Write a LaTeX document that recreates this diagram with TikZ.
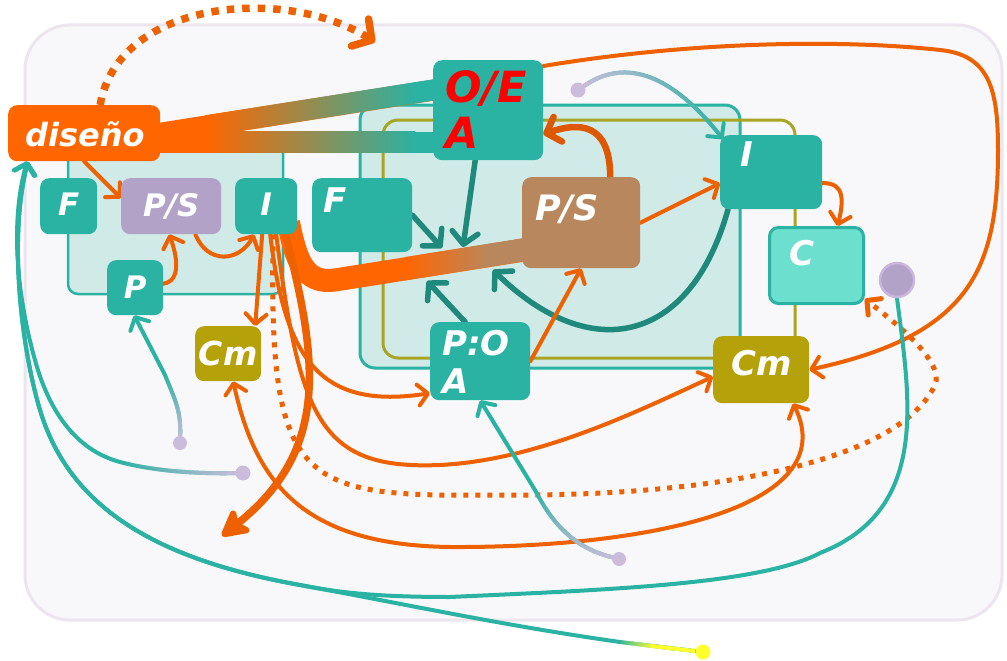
\documentclass[tikz,border=0pt]{standalone}
\usepackage{fontspec}
\setmainfont{DejaVu Sans}
\usetikzlibrary{arrows.meta,fadings}

\definecolor{tealN}{HTML}{2AB2A2}
\definecolor{tealD}{HTML}{1F8A7B}
\definecolor{tealBg}{HTML}{D0EAE8}
\definecolor{orangeN}{HTML}{FF6600}
\definecolor{orangeL}{HTML}{EE6100}
\definecolor{orangeD}{HTML}{DD5800}
\definecolor{lavN}{HTML}{B3A2C8}
\definecolor{lavEdge}{HTML}{C9B8DC}
\definecolor{lavDot}{HTML}{CBBCDB}
\definecolor{brownPS}{HTML}{B8875D}
\definecolor{oliveN}{HTML}{B5A10A}
\definecolor{oliveBox}{HTML}{A8A524}
\definecolor{cyanC}{HTML}{6CDFCF}
\definecolor{paper}{HTML}{F8F8FB}
\definecolor{paperEdge}{HTML}{ECE5EE}
\definecolor{yellowDot}{HTML}{FFFF2E}

\newcommand{\boxfont}[2]{\fontsize{#1}{#2}\selectfont\bfseries\itshape}

\pgfdeclarelayer{back}
\pgfdeclarelayer{edges}
\pgfsetlayers{back,edges,main}

\begin{document}
\begin{tikzpicture}
[
    x=1pt, y=-1pt,
    blk/.style={rounded corners=9pt, inner sep=0pt, anchor=north west, text=white, font=\boxfont{31}{36}},
    endpt/.style={circle, fill=lavDot, inner sep=0pt, minimum size=15pt},
    ol/.style={draw=orangeL, line width=4pt, line cap=round},
    oarr/.style={ol, -{Straight Barb[length=10pt, width=21pt, round]}},
    tl/.style={draw=tealN, line width=4pt, line cap=round},
    tarr/.style={tl, -{Straight Barb[length=10pt, width=21pt, round]}},
    lavline/.style={draw=lavDot, line width=4pt, line cap=round},
    yline/.style={draw=yellowDot, line width=4pt},
    darr/.style={draw=tealD, line width=5.5pt, line cap=round, -{Straight Barb[length=12pt, width=26pt, round]}},
    band/.style={draw=orangeN, line width=21pt},
    dotarr/.style={draw=orangeL, line width=5pt, dash pattern=on 5pt off 7pt, -{Straight Barb[length=10pt, width=21pt, round]}},
]
\useasboundingbox (0,0) rectangle (1007,661);

% frames
\begin{pgfonlayer}{back}
\fill[white] (0,0) rectangle (1007,661);
\draw[paperEdge, fill=paper, line width=3pt, rounded corners=45pt] (25,25) rectangle (1002,620);
\draw[tealN, fill=tealBg, line width=2.5pt, rounded corners=10pt] (68,140) rectangle (283,294);
\draw[tealN, fill=tealBg, line width=3pt, rounded corners=15pt] (360,105) rectangle (740,368);
\draw[oliveBox, line width=3pt, rounded corners=15pt] (383,120) rectangle (795,358);
\end{pgfonlayer}

% boxes
\node[blk, fill=orangeN, font=\boxfont{32}{36}, inner xsep=17pt, text width=118pt, text height=41pt, text depth=15pt, align=left] (dis) at (8,105) {diseño};
\node[blk, fill=tealN, text width=57pt, text height=37pt, text depth=19pt, align=center] (fL) at (40,178) {F};
\node[blk, fill=lavN, text width=100pt, text height=38pt, text depth=18pt, align=center] (psL) at (121,178) {P/S};
\node[blk, fill=tealN, text width=62pt, text height=37pt, text depth=19pt, align=center] (iL) at (235,178) {I};
\node[blk, fill=tealN, text width=56pt, text height=38pt, text depth=17pt, align=center] (pL) at (107,260) {P};
\node[blk, fill=oliveN, font=\boxfont{33}{38}, text width=66pt, text height=39pt, text depth=16pt, align=center] (cmL) at (195,326) {Cm};
\node[blk, fill=tealN, font=\boxfont{34}{38}, inner xsep=11pt, text width=78pt, text height=34pt, text depth=40pt, align=left] (fC) at (312,178) {F};
\node[blk, fill=tealN, text=red, font=\boxfont{43}{46}, inner xsep=12pt, text width=86pt, text height=42pt, text depth=58pt, align=left] (oea) at (433,60) {O/E\\A};
\node[blk, fill=brownPS, font=\boxfont{35}{38}, inner xsep=13pt, text width=92pt, text height=43pt, text depth=48pt, align=left] (psC) at (522,177) {P/S};
\node[blk, fill=tealN, font=\boxfont{34}{38}, inner xsep=20pt, text width=62pt, text height=31pt, text depth=43pt, align=left] (iR) at (720,135) {I};
\node[blk, fill=cyanC, draw=tealN, line width=3pt, font=\boxfont{34}{38}, inner xsep=20pt, text width=54pt, text height=38pt, text depth=38pt, align=left] (cR) at (768,226) {C};
\node[blk, fill=oliveN, font=\boxfont{34}{38}, inner xsep=18pt, text width=60pt, text height=39pt, text depth=28pt, align=left] (cmR) at (713,336) {Cm};
\node[blk, fill=tealN, font=\boxfont{34}{38}, inner xsep=12pt, text width=76pt, text height=33pt, text depth=45pt, align=left] (poa) at (430,322) {P:O\\A};

% loose ends
\node[circle, fill=lavN, draw=lavEdge, line width=2.5pt, minimum size=34pt, inner sep=0pt] (pc) at (897,280) {};
\node[endpt] (dtA) at (578,90) {};
\node[endpt, minimum size=14pt] (dtB) at (180,443) {};
\node[endpt] (dtC) at (243,473) {};
\node[endpt, minimum size=14pt] (dtD) at (619,559) {};
\node[endpt, fill=yellowDot] (dtY) at (703,652) {};
\coordinate (hubA) at (442,248);
\coordinate (hubB) at (463,247);
\coordinate (hubC) at (427,281);
\coordinate (hubD) at (493,270);
\coordinate (tipI) at (222,536);
\coordinate (tipO) at (375,42);
\coordinate (bandBend) at (335,280);
\coordinate (lavTurn) at (120,462);
\coordinate (yelTurn) at (620,642);
\coordinate (tealJoin) at (300,585);
\coordinate (pBend) at (165,375);
\coordinate (poaBend) at (535,490);

\begin{pgfonlayer}{edges}
% wide bands
\draw[band] (dis.east) -- ([yshift=20pt]oea.west);
\draw[band] ([yshift=-9pt]dis.east) -- ([yshift=-32pt]oea.west);
\shade[left color=orangeN, right color=tealN] (205,115.3) -- (415,82.2) -- (415,103.4) -- (205,136.5) -- cycle;
\fill[tealN] (414,82.3) -- (440,78.3) -- (440,99.5) -- (414,103.6) -- cycle;
\shade[left color=orangeN, right color=tealN] (205,131.5) rectangle (415,152.5);
\fill[tealN] (414,131.5) rectangle (436,152.5);

\draw[band, line width=23pt] ([shift={(-9,-12)}]iL.south east) .. controls +(8,40) and +(-30,4) .. (bandBend) -- ([shift={(6,-19)}]psC.south west);
\shade[left color=orangeN, right color=brownPS] (405,257.1) -- (490,243.45) -- (490,266.75) -- (405,280.4) -- cycle;
\fill[brownPS] (489,243.6) -- (530,237.05) -- (530,260.35) -- (489,266.9) -- cycle;

% dark arrows into the band
\draw[darr] (fC.east) -- (hubA);
\draw[darr] ([xshift=-13pt]oea.south) -- (hubB);
\draw[darr] ([xshift=-15pt]poa.north) -- (hubC);
\draw[darr] ([xshift=8pt]iR.south west) .. controls (690,345) and (590,365) .. (hubD);

% orange links
\draw[draw=orangeL, line width=7.5pt, dash pattern=on 7.5pt off 8pt, -{Straight Barb[length=14pt, width=32pt, round]}] ([xshift=16pt]dis.north) .. controls (118,0) and (285,-15) .. (tipO);
\draw[oarr] (dis.south) -- ([yshift=8pt]psL.west);
\draw[oarr] ([yshift=4pt]pL.east) .. controls +(18,-3) and +(8,22) .. ([xshift=-2pt]psL.south);
\draw[oarr] ([xshift=-26pt]psL.south east) .. controls +(12,30) and +(-15,28) .. ([xshift=-12pt]iL.south);
\draw[oarr] ([xshift=-4pt]iL.south) -- ([xshift=27pt]cmL.north);
\draw[oarr] ([xshift=4pt]iL.south) .. controls (285,360) and (320,410) .. ([yshift=-32pt]poa.west);
\draw[oarr] ([xshift=10pt]iL.south) .. controls (300,420) and (320,470) .. (440,465) .. controls (540,460) and (640,410) .. ([yshift=-7pt]cmR.west);
\draw[dotarr] ([xshift=7pt]iL.south) .. controls (268,490) and (300,497) .. (500,495) .. controls (720,497) and (900,460) .. (935,385) .. controls (946,360) and (885,315) .. ([yshift=6pt]cR.south east);
\draw[draw=orangeL, line width=7.5pt, line cap=round, -{Stealth[length=32pt, width=34pt, inset=7pt, round]}] ([xshift=-12pt]iL.south east) .. controls (318,360) and (330,450) .. (tipI);
\draw[draw=orangeD, line width=6.5pt, line cap=round, -{Straight Barb[length=12pt, width=26pt, round]}] ([xshift=29pt]psC.north) .. controls +(0,-55) and +(35,-12) .. ([yshift=-24pt]oea.east);
\draw[oarr] (psC.east) -- ([yshift=-11pt]iR.west);
\draw[oarr] (poa.east) -- (psC.south);
\draw[oarr] ([yshift=-11pt]iR.east) .. controls +(23,-1) and +(6,-24) .. ([xshift=21pt]cR.north);
\draw[oarr] ([yshift=-6pt]oea.north east) .. controls (700,40) and (850,40) .. (940,50) .. controls (990,55) and (998,90) .. (998,150) .. controls (998,270) and (970,335) .. (cmR.east);
\draw[ol, {Straight Barb[length=10pt, width=21pt, round]}-{Straight Barb[length=10pt, width=21pt, round]}] ([xshift=5pt]cmL.south) .. controls (255,480) and (300,545) .. (450,547) .. controls (640,548) and (845,510) .. ([xshift=32pt]cmR.south);

% teal links
\draw[tarr] (dtA) .. controls (615,65) and (660,60) .. ([shift={(3,4)}]iR.north west);
\draw[lavline, path fading=east] (dtA) .. controls (615,65) and (660,60) .. ([shift={(3,4)}]iR.north west);
\draw[tarr] (dtB) .. controls +(1,-33) and +(10,25) .. (pBend) -- ([xshift=-1pt]pL.south);
\draw[lavline, path fading=north] (dtB) .. controls +(1,-33) and +(10,25) .. (pBend);
\draw[tarr] (dtD) .. controls +(-44,-11) and +(18,35) .. (poaBend) -- (poa.south);
\draw[lavline, path fading=north] (dtD) .. controls +(-44,-11) and +(18,35) .. (poaBend);
\draw[tarr] (dtC) .. controls (190,474) and (150,470) .. (lavTurn) .. controls (75,450) and (50,410) .. (37,367) .. controls (20,310) and (8,230) .. ([xshift=19pt]dis.south west);
\draw[lavline, path fading=west] (dtC) .. controls (190,474) and (150,470) .. (lavTurn);
\draw[tarr] (dtY) -- (yelTurn) .. controls (500,625) and (400,603) .. (tealJoin) .. controls (160,560) and (70,510) .. (40,410) .. controls (22,350) and (8,240) .. ([xshift=20pt]dis.south west);
\draw[yline] (dtY) -- (652,646);
\draw[yline, path fading=west] (652,646) -- (yelTurn);
\draw[tarr] (pc.south) .. controls (910,400) and (930,510) .. (820,553) .. controls (760,585) and (600,590) .. (450,597) .. controls (380,597) and (340,593) .. (tealJoin) .. controls (160,560) and (70,510) .. (40,410) .. controls (22,350) and (8,240) .. ([xshift=20pt]dis.south west);
\end{pgfonlayer}
\end{tikzpicture}
\end{document}
